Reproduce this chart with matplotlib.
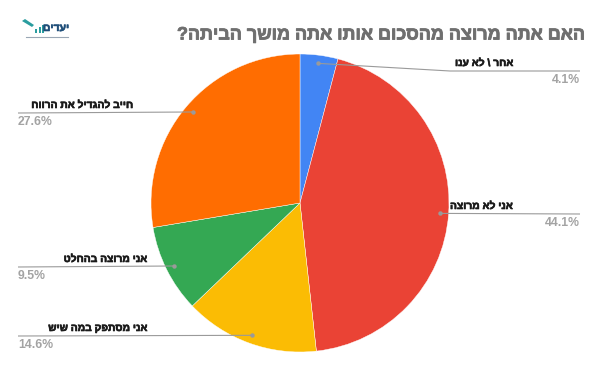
import matplotlib
matplotlib.use("Agg")
import matplotlib.pyplot as plt
import matplotlib.patheffects as pe
import numpy as np
from matplotlib.patches import Rectangle, Polygon

# ---- data ----
categories = ["אחר \\ לא ענו", "אני לא מרוצה", "אני מסתפק במה שיש", "אני מרוצה בהחלט", "חייב להגדיל את הרווח"]
values = [4.1, 44.1, 14.6, 9.5, 27.6]
pct_labels = ["4.1%", "44.1%", "14.6%", "9.5%", "27.6%"]
title = "האם אתה מרוצה מהסכום אותו אתה מושך הביתה?"
logo_text = "יעדים"

# ---- style / layout ----
colors = ["#4285F4", "#EA4335", "#FBBC04", "#34A853", "#FF6D01"]
W, H = 600, 371
FAM = ["Liberation Sans", "DejaVu Sans"]
plt.rcParams['font.family'] = FAM

def rtl(s):
    return s[::-1]

def Y(y):
    return H - y

def bold(c, w=0.45):
    return [pe.withStroke(linewidth=w, foreground=c)]

fig = plt.figure(figsize=(6.0, 3.71), dpi=100)
ax = fig.add_axes([0, 0, 1, 1])
cx, cy, R = 300, Y(203), 149
ax.pie(values, colors=colors, startangle=90, counterclock=False,
       center=(cx, cy), radius=R,
       wedgeprops=dict(linewidth=0.3, edgecolor="white"))
ax.set_xlim(0, W)
ax.set_ylim(0, H)
ax.set_aspect("auto")
ax.axis("off")

# label layout: side, line y (px from top), text x, pct x, elbow x
layout = [
    ("R", 71, 455, 580, 450),
    ("R", 214, 450, 580, None),
    ("L", 336, 147, 18, None),
    ("L", 267, 147, 18, None),
    ("L", 113, 133, 18, None),
]
total = sum(values)
cum = 0.0
line_col = "#9a9a9a"
LBL = 7.4
PCT = 8.8
lab_col = "#1a1a1a"
pct_col = "#a3a3a3"
for i, v in enumerate(values):
    mid = cum + v / 2.0
    cum += v
    th = np.deg2rad(90 - 360.0 * mid / total)
    dx = cx + 0.945 * R * np.cos(th)
    dy = cy + 0.945 * R * np.sin(th)
    side, ly, tx, px, ex = layout[i]
    if side == "R":
        xs = [dx] + ([ex] if ex else []) + [580]
        ys = [dy] + ([Y(ly)] if ex else []) + [Y(ly)]
        ha_t, ha_p = "left", "right"
    else:
        xs = [dx, 18]
        ys = [dy, Y(ly)]
        ha_t, ha_p = "right", "left"
    ax.text(tx, Y(ly) + 3, rtl(categories[i]), ha=ha_t, va="bottom",
            fontsize=LBL, fontweight="bold", color=lab_col,
            path_effects=bold(lab_col))
    ax.text(px, Y(ly) - 3, pct_labels[i], ha=ha_p, va="top",
            fontsize=PCT, fontweight="bold", color=pct_col)
    ax.plot(xs, ys, color=line_col, lw=0.8, solid_capstyle="butt")
    ax.plot([dx], [dy], "o", ms=3.2, color=line_col, mec="none")

# title
ax.text(583, Y(35), rtl(title), ha="right", va="center",
        fontsize=12.9, fontweight="bold", color="#6f6f6f",
        path_effects=bold("#6f6f6f", 0.6))

# logo
ax.text(69, Y(28), rtl(logo_text), ha="right", va="center",
        fontsize=7.5, fontweight="bold", color="#1f4e79",
        path_effects=bold("#1f4e79", 0.4))
for bx, bh in [(35, 4), (38.5, 6), (42, 8)]:
    ax.add_patch(Rectangle((bx, Y(33)), 2.2, bh, color="#2a9d9f", lw=0))
ax.add_patch(Polygon([(22, Y(21)), (25, Y(19)), (34, Y(25)), (32, Y(27))],
                     closed=True, color="#2a9d9f", lw=0))
ax.plot([26, 68], [Y(36.5), Y(36.5)], color="#9aa7b5", lw=0.8)

fig.savefig("out.png", dpi=100)
